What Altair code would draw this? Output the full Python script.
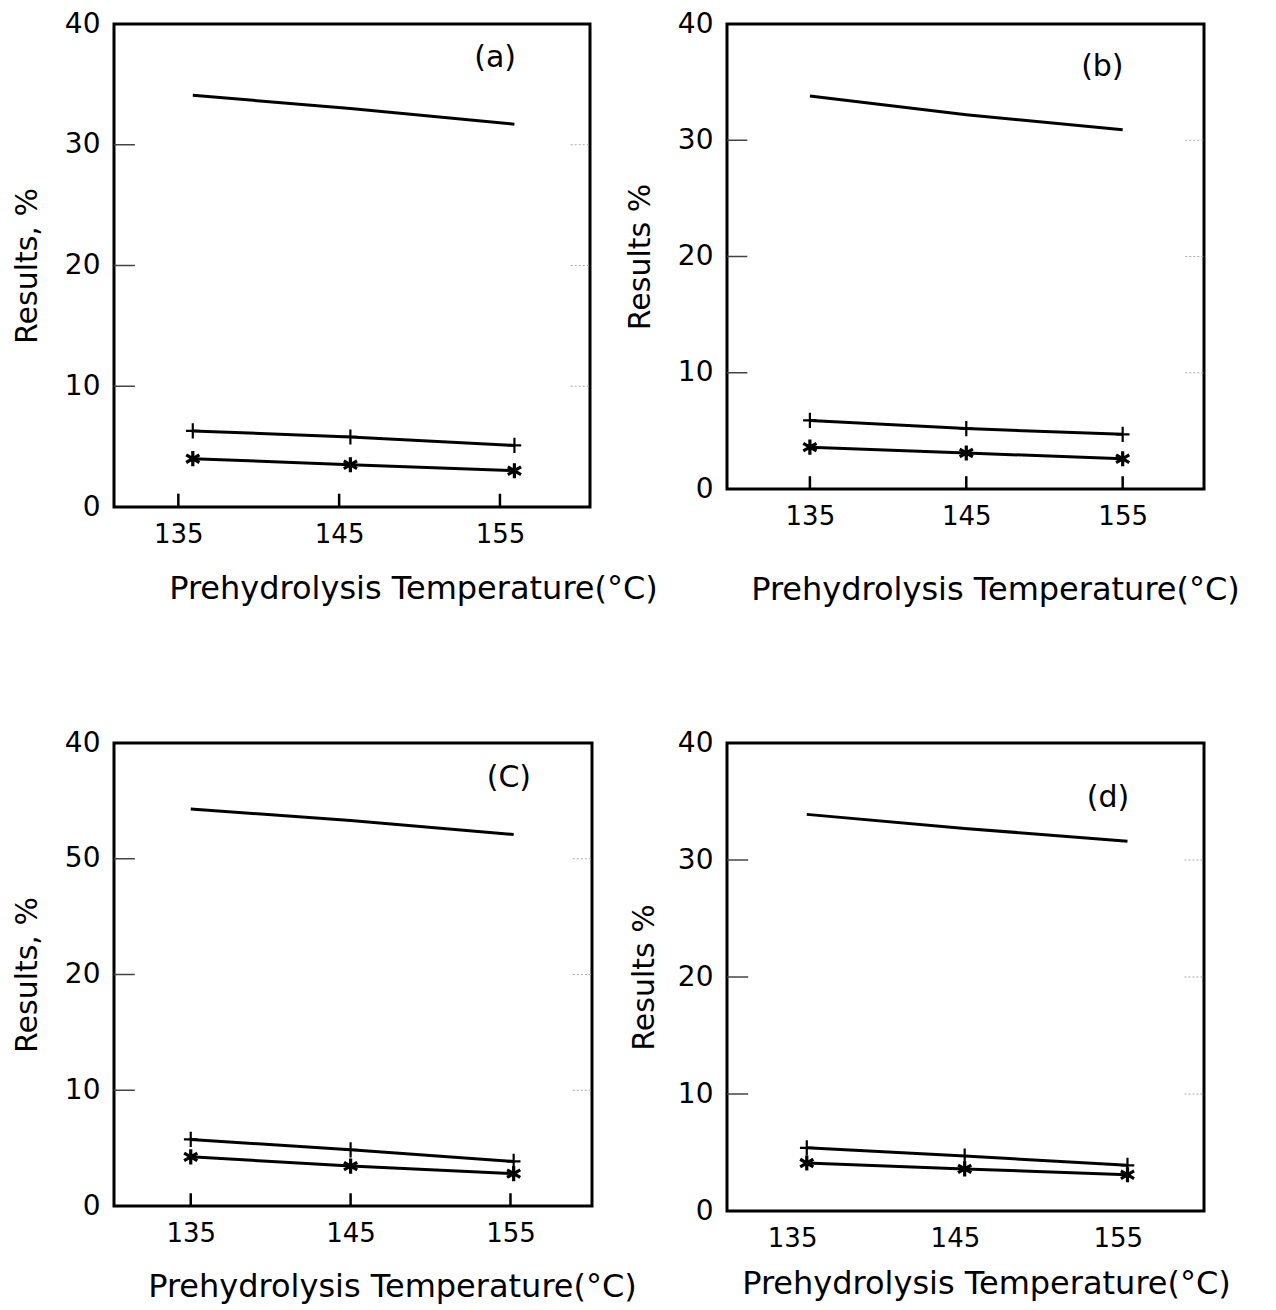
import altair as alt
import pandas as pd

# ---- data ----
x_ticks = [135, 145, 155]
y_ticks = [0, 10, 20, 30, 40]

temp_a = [135.9, 145.7, 155.9]
top_a = [34.1, 33.0, 31.7]
plus_a = [6.3, 5.8, 5.1]
star_a = [4.0, 3.5, 3.0]

temp_b = [135.0, 145.0, 155.0]
top_b = [33.8, 32.2, 30.9]
plus_b = [5.9, 5.2, 4.7]
star_b = [3.6, 3.1, 2.6]

temp_c = [135.0, 145.0, 155.2]
top_c = [34.3, 33.3, 32.1]
plus_c = [5.75, 4.85, 3.85]
star_c = [4.25, 3.45, 2.8]

temp_d = [135.9, 145.6, 155.6]
top_d = [33.9, 32.7, 31.6]
plus_d = [5.4, 4.7, 3.9]
star_d = [4.1, 3.6, 3.1]

panel_tags = ["(a)", "(b)", "(C)", "(d)"]
y_titles = ["Results, %", "Results %", "Results, %", "Results %"]
x_title = "Prehydrolysis  Temperature(°C)"

FONT = "DejaVu Sans"
PLUS = "M0,-1L0,1M-0.9,0L0.9,0"
STAR = "M0,-1L0,1M-0.87,-0.5L0.87,0.5M-0.87,0.5L0.87,-0.5"


def panel(temps, top, plus, star, xdom, ytitle, tag, tag_xy, w, h,
          title_x, title_y, ytitle_pad, label_expr=None, xticks=True):
    n = len(temps)
    df = pd.DataFrame({
        "T": temps * 3,
        "v": top + plus + star,
        "s": ["top"] * n + ["plus"] * n + ["star"] * n,
    })
    yaxis = dict(values=y_ticks, title=ytitle, ticks=False, domain=False, grid=False,
                 labelPadding=14, titlePadding=ytitle_pad, labelFontSize=28,
                 titleFontSize=30, titleFontWeight="normal", labelFont=FONT,
                 titleFont=FONT, labelColor="black", titleColor="black")
    if label_expr:
        yaxis["labelExpr"] = label_expr
    x = alt.X("T:Q", scale=alt.Scale(domain=xdom, nice=False, zero=False),
              axis=alt.Axis(values=x_ticks, title=x_title, format="d", ticks=False,
                            domain=False, grid=False, labelPadding=14,
                            labelFontSize=26, titleFontSize=32,
                            titleFontWeight="normal", labelFont=FONT, titleFont=FONT,
                            labelColor="black", titleColor="black",
                            titleX=title_x, titleY=title_y, titleBaseline="middle",
                            titleAlign="center"))
    y = alt.Y("v:Q", scale=alt.Scale(domain=[0, 40], nice=False), axis=alt.Axis(**yaxis))

    lines = alt.Chart(df).mark_line(color="black", strokeWidth=3).encode(
        x=x, y=y, detail="s:N")
    pluspts = alt.Chart(df).transform_filter("datum.s == 'plus'").mark_point(
        shape=PLUS, filled=False, color="black", strokeWidth=2.2, size=230, opacity=1
    ).encode(x=x, y=y)
    starpts = alt.Chart(df).transform_filter("datum.s == 'star'").mark_point(
        shape=STAR, filled=False, color="black", strokeWidth=3.2, size=230, opacity=1
    ).encode(x=x, y=y)

    layers = [lines, pluspts, starpts]

    if xticks:
        xt = pd.DataFrame({"T": x_ticks, "v": [0] * 3, "v2": [1.1] * 3})
        layers.append(alt.Chart(xt).mark_rule(color="black", strokeWidth=2.5).encode(
            x=x, y=y, y2="v2"))
    yt = pd.DataFrame({"T": [xdom[0]] * 3, "T2": [xdom[0] + 1.3] * 3, "v": [10, 20, 30]})
    layers.append(alt.Chart(yt).mark_rule(color="#444", strokeWidth=1.5).encode(
        x=x, x2="T2", y=y))
    ytr = pd.DataFrame({"T": [xdom[1] - 1.2] * 3, "T2": [xdom[1]] * 3, "v": [10, 20, 30]})
    layers.append(alt.Chart(ytr).mark_rule(color="#aaa", strokeWidth=1.2,
                                           strokeDash=[2, 2]).encode(x=x, x2="T2", y=y))

    tdf = pd.DataFrame({"T": [tag_xy[0]], "v": [tag_xy[1]], "t": [tag]})
    layers.append(alt.Chart(tdf).mark_text(font=FONT, fontSize=30, color="black").encode(
        x=x, y=y, text="t:N"))

    return alt.layer(*layers).properties(width=w, height=h)


pa = panel(temp_a, top_a, plus_a, star_a, [131.0, 160.6], y_titles[0], panel_tags[0],
           (154.7, 37.2), 476, 483, 299, 81, 22)
pb = panel(temp_b, top_b, plus_b, star_b, [129.7, 160.2], y_titles[1], panel_tags[1],
           (153.7, 36.3), 477, 465, 268, 100, 22)
pc = panel(temp_c, top_c, plus_c, star_c, [130.2, 160.1], y_titles[2], panel_tags[2],
           (154.9, 37.0), 478, 463, 278, 80, 22,
           label_expr="datum.value == 30 ? '50' : datum.label")
pd_ = panel(temp_d, top_d, plus_d, star_d, [131.0, 160.3], y_titles[3], panel_tags[3],
            (154.4, 35.3), 477, 468, 259, 72, 18, xticks=False)

chart = alt.concat(pa, pb, pc, pd_, columns=2, spacing={"row": 236, "column": 135},
                   bounds="flush").properties(
    padding={"left": 2, "top": 0, "right": 2, "bottom": 2}, background="white"
).configure_view(stroke="black", strokeWidth=3)

chart.save("out.html", embed_options={"renderer": "svg", "actions": False})
